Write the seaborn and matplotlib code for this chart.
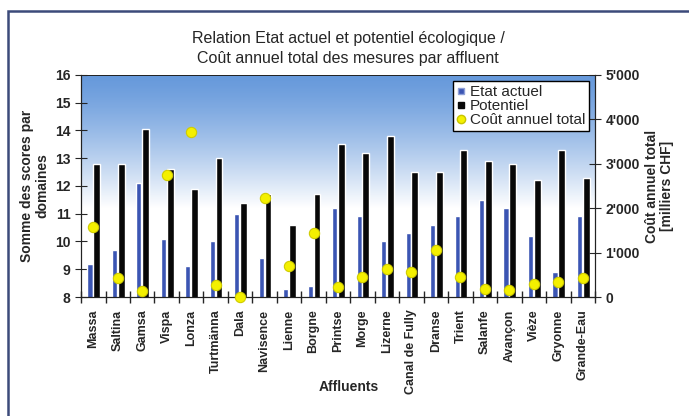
import numpy as np
import pandas as pd
import matplotlib.pyplot as plt
import seaborn as sns
from matplotlib.patches import Rectangle
from matplotlib.lines import Line2D
from matplotlib.ticker import FuncFormatter

affluents = ['Massa', 'Saltina', 'Gamsa', 'Vispa', 'Lonza', 'Turtmänna', 'Dala',
             'Navisence', 'Lienne', 'Borgne', 'Printse', 'Morge', 'Lizerne',
             'Canal de Fully', 'Dranse', 'Trient', 'Salanfe', 'Avançon', 'Vièze',
             'Gryonne', 'Grande-Eau']
etat_actuel = [9.2, 9.7, 12.1, 10.1, 9.1, 10.0, 11.0, 9.4, 8.3, 8.4, 11.2,
               10.9, 10.0, 10.3, 10.6, 10.9, 11.5, 11.2, 10.2, 8.9, 10.9]
potentiel = [12.8, 12.8, 14.05, 12.6, 11.9, 13.0, 11.4, 11.7, 10.6, 11.7, 13.5,
             13.2, 13.8, 12.5, 12.5, 13.3, 12.9, 12.8, 12.2, 13.3, 12.3]
cout_total = [1580, 430, 135, 2750, 3720, 270, 0, 2230, 700, 1440, 225,
              460, 620, 570, 1050, 460, 190, 150, 290, 340, 430]

sns.set_style('ticks')
plt.rcParams['font.family'] = ['Liberation Sans', 'DejaVu Sans']

df = pd.DataFrame({'Affluent': affluents, 'Etat actuel': etat_actuel,
                   'Potentiel': potentiel, 'Cout': cout_total})
long = df.melt(id_vars='Affluent', value_vars=['Etat actuel', 'Potentiel'],
               var_name='Serie', value_name='Score')
n = len(affluents)

fig = plt.figure(figsize=(6.89, 4.16), dpi=100)
fig.patch.set_facecolor('white')
ax = fig.add_axes([0.1176, 0.286, 0.746, 0.534])

# blue-to-white background gradient
top = np.array([0.40, 0.60, 0.86])
t = np.linspace(0, 1, 256)
fade = np.clip(t / 0.6, 0, 1)[:, None] ** 1.3
grad = top * (1 - fade) + np.ones(3) * fade
ax.imshow(grad[:, None, :], extent=[-0.5, n - 0.5, 8, 16], aspect='auto',
          zorder=0, interpolation='bilinear')

sns.barplot(data=long, x='Affluent', y='Score', hue='Serie',
            palette={'Etat actuel': '#3b55b3', 'Potentiel': '#080808'},
            width=0.5, ax=ax, legend=False, zorder=2, saturation=1)

for bar in ax.containers[0]:
    right = bar.get_x() + bar.get_width()
    bar.set_x(right - 0.24)
    bar.set_width(0.21)
for bar in ax.containers[1]:
    bar.set_width(0.28)

ax.set_xlim(-0.5, n - 0.5)
ax.set_ylim(8, 16)
ax.set_yticks(range(8, 17))
ax.set_xticks(range(n))
ax.set_xticklabels(affluents, rotation=90, fontsize=9, fontweight='bold')
ax.set_xticks(np.arange(-0.5, n), minor=True)
ax.tick_params(axis='x', which='major', length=0, pad=9)
ax.tick_params(axis='x', which='minor', length=8, direction='inout', width=1)
ax.tick_params(axis='y', direction='inout', length=8, labelsize=10)
for lab in ax.get_yticklabels():
    lab.set_fontweight('bold')
ax.set_xlabel('Affluents', fontsize=10, fontweight='bold')
ax.xaxis.set_label_coords(0.52, -0.375)
ax.set_ylabel('Somme des scores par\ndomaines', fontsize=10, fontweight='bold',
              linespacing=1.1)
for s in ax.spines.values():
    s.set_color('#222222')
ax.spines['top'].set_linewidth(0.6)

ax2 = ax.twinx()
sns.scatterplot(x=df.index, y=df['Cout'], ax=ax2, s=55, color='#f4f000',
                edgecolor='#d0cc00', linewidth=0.8, zorder=5, clip_on=False)
ax2.set_ylim(0, 5000)
ax2.set_yticks([0, 1000, 2000, 3000, 4000, 5000])
ax2.yaxis.set_major_formatter(FuncFormatter(lambda v, p: f"{int(v):,}".replace(',', "'")))
ax2.tick_params(axis='y', direction='inout', length=8, labelsize=10)
for lab in ax2.get_yticklabels():
    lab.set_fontweight('bold')
ax2.set_ylabel('Coût annuel total\n[milliers CHF]', fontsize=10, fontweight='bold',
               linespacing=1.1)
for s in ax2.spines.values():
    s.set_color('#222222')
ax2.spines['top'].set_linewidth(0.6)

handles = [Line2D([], [], marker='s', linestyle='none', markersize=5,
                  markerfacecolor='#3b55b3', markeredgecolor='#8fa0d8'),
           Line2D([], [], marker='s', linestyle='none', markersize=5,
                  markerfacecolor='#080808', markeredgecolor='#080808'),
           Line2D([], [], marker='o', linestyle='none', markersize=6,
                  markerfacecolor='#f4f000', markeredgecolor='#c8c400')]
leg = ax2.legend(handles, ['Etat actuel', 'Potentiel', 'Coût annuel total'],
                 loc='upper right', bbox_to_anchor=(0.995, 0.985), fontsize=11,
                 frameon=True, fancybox=False, handlelength=0.6,
                 handletextpad=0.3, labelspacing=0.0, borderpad=0.25,
                 borderaxespad=0.2)
leg.get_frame().set_edgecolor('black')
leg.get_frame().set_linewidth(1.0)
leg.get_frame().set_facecolor('white')
leg.get_frame().set_alpha(1)

fig.text(0.505, 0.907, 'Relation Etat actuel et potentiel écologique /',
         ha='center', va='center', fontsize=11.5)
fig.text(0.505, 0.86, 'Coût annuel total des mesures par affluent',
         ha='center', va='center', fontsize=11.5)

fig.patches.append(Rectangle((8 / 689, -0.05), 1.0, 1 - 11 / 416 + 0.05,
                             transform=fig.transFigure, fill=False,
                             edgecolor='#3c4a7a', linewidth=1.8))

fig.savefig('out.png', dpi=100)
